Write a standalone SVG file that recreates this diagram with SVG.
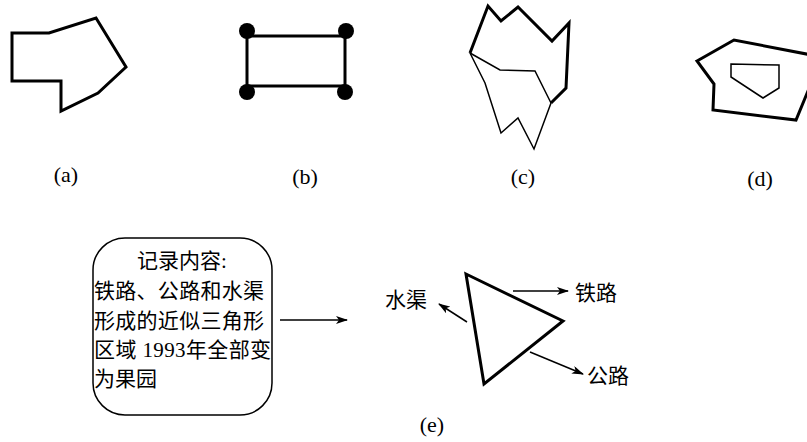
<svg xmlns="http://www.w3.org/2000/svg" width="807" height="442" viewBox="0 0 807 442">
<style>
.thick{fill:none;stroke:#000;stroke-width:3;stroke-linejoin:miter}
.thin{fill:none;stroke:#000;stroke-width:1.5}
.lbl{font-family:"Liberation Serif",serif;font-size:22px;fill:#000;text-anchor:middle}
.cjk{font-family:"Liberation Serif","Noto Sans CJK SC",serif;font-size:21px;fill:#000}
.arr{fill:none;stroke:#000;stroke-width:1.5;marker-end:url(#ah)}
</style>
<defs>
<marker id="ah" viewBox="0 0 12 8" refX="11" refY="4" markerWidth="12" markerHeight="8" markerUnits="userSpaceOnUse" orient="auto">
<path d="M0,0 L12,4 L0,8 L3,4 Z" fill="#000"/>
</marker>
</defs>
<rect width="807" height="442" fill="#fff"/>
<g id="a">
<polygon class="thick" points="12,33 49,33 96,18 126,67 98,93 61,111 61,81 12,81"/>
<text class="lbl" x="66" y="182">(a)</text>
</g>
<g id="b">
<rect class="thick" x="247" y="36" width="98" height="50"/>
<circle cx="247" cy="31" r="8"/>
<circle cx="346" cy="31" r="8"/>
<circle cx="247" cy="92" r="8"/>
<circle cx="345" cy="92" r="8"/>
<text class="lbl" x="305" y="184">(b)</text>
</g>
<g id="c">
<polyline class="thick" points="470,53 488,6 501,21 518,7 552,41 569,23 566,88 551,103"/>
<polyline class="thin" points="470,53 500,70 535,71 551,103"/>
<polyline class="thin" points="470,53 485,83 501,133 518,118 534,149 551,103"/>
<text class="lbl" x="523" y="184">(c)</text>
</g>
<g id="d">
<polygon class="thick" points="697,61 734,40 822,57 796,120 713,110 714,84"/>
<polygon class="thin" points="731,64 779,65 779,88 763,98 731,77"/>
<text class="lbl" x="760" y="186">(d)</text>
</g>
<g id="e-box">
<rect class="thin" x="93" y="238" width="179" height="177" rx="32" ry="32" stroke-width="2.2"/>
<text class="cjk" x="182" y="268" text-anchor="middle">记录内容:</text>
<text class="cjk" x="94" y="298" textLength="170">铁路、公路和水渠</text>
<text class="cjk" x="94" y="328" textLength="170">形成的近似三角形</text>
<text class="cjk" x="94" y="357" textLength="177">区域 1993年全部变</text>
<text class="cjk" x="94" y="386">为果园</text>
</g>
<g id="e-triangle">
<polygon class="thick" points="466,274 563,321 484,384"/>
</g>
<g id="e-labels">
<text class="cjk" x="575" y="300">铁路</text>
<text class="cjk" x="385" y="307">水渠</text>
<text class="cjk" x="587" y="383">公路</text>
<text class="lbl" x="432" y="432">(e)</text>
</g>
<g id="connectors">
<line class="arr" x1="280" y1="320" x2="347" y2="320"/>
<line class="arr" x1="513" y1="291" x2="568" y2="291"/>
<line class="arr" x1="467" y1="322" x2="439" y2="304"/>
<line class="arr" x1="530" y1="352" x2="583" y2="374"/>
</g>
</svg>
